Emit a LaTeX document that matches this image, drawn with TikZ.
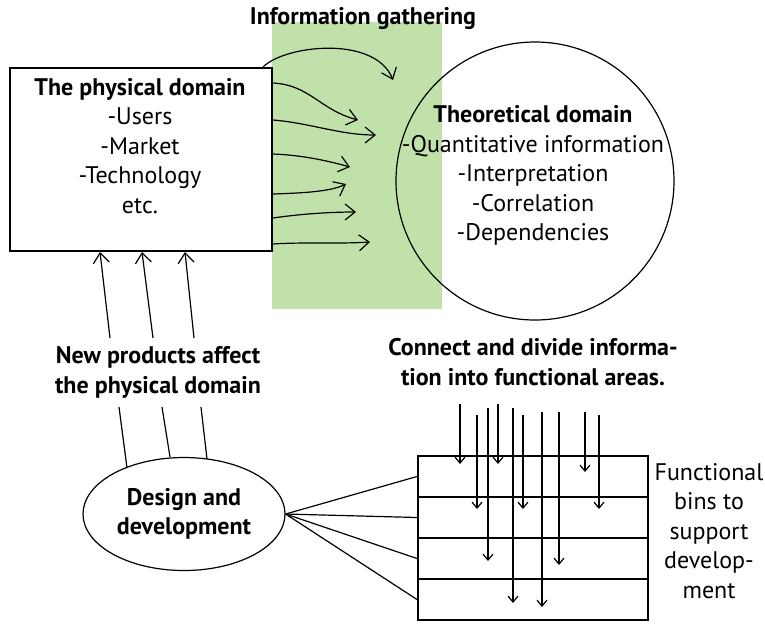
\documentclass[tikz,border=0pt]{standalone}
\usepackage{fontspec}
\setmainfont{PT Sans}
\usetikzlibrary{arrows.meta,shapes.geometric}

\definecolor{gathergreen}{RGB}{193,225,170}
\newcommand{\diagfont}{\fontsize{12}{14.7}\selectfont}

\tikzstyle{heading}=[align=center, font=\diagfont\bfseries, inner sep=0pt]
\tikzstyle{plain}=[align=center, font=\diagfont, inner sep=0pt]
\tikzstyle{infoarrow}=[-{Straight Barb[length=5pt,width=8pt]}, line width=0.6pt]
\tikzstyle{binarrow}=[-{Straight Barb[length=3pt,width=5pt]}, line width=0.6pt]
\tikzstyle{bin}=[draw, line width=1pt, minimum width=115pt, minimum height=20.5pt, inner sep=0pt]

\begin{document}
\begin{tikzpicture}[x=0.5pt, y=-0.5pt]
\useasboundingbox (0,0) rectangle (765,623);

\fill[gathergreen] (272,22) rectangle (442,309);
\node[heading] (gather) at (363,19) {Information gathering};

\node[draw, line width=1pt, minimum width=131pt, minimum height=91.5pt, inner sep=0pt] (phys) at (141,159.5) {};
\node[plain] (physlist) at (140,146) {\textbf{The physical domain}\\-Users\\-Market\\-Technology\\etc.};

\node[draw, circle, line width=0.6pt, minimum size=139pt, inner sep=0pt] (theo) at (535,181) {};
\node[plain] (theolist) at (533,175.5) {\textbf{Theoretical domain}\\-Quantitative information\\-Interpretation\\-Correlation\\-Dependencies};

% information flowing into the theoretical domain
\draw[infoarrow] ([xshift=-5pt]phys.north east) .. controls (285,45) and (375,35) .. (393,80);
\foreach \y/\ca/\cb/\tip in {83/{310,85}/{320,110}/{358,120},
                             120/{310,123}/{340,135}/{376,135},
                             154/{300,155}/{325,160}/{350,167},
                             194/{300,193}/{330,192}/{346,184},
                             218/{300,214}/{330,212}/{356,212},
                             244/{300,242}/{340,244}/{370,242}}{
  \draw[infoarrow] (phys.east |- 0,\y) .. controls (\ca) and (\cb) .. (\tip);
}

\node[heading] (newprod) at (158,372.5) {New products affect\\the physical domain};
\node[draw, ellipse, line width=0.6pt, minimum width=101pt, minimum height=56.5pt, inner sep=0pt, font=\diagfont\bfseries, align=center] (design) at (184,514) {Design and\\development};

\foreach \a/\ay/\b/\c/\d in {127/468/119/110/100, 170/457/162/153/142, 207/459/201/194/185}{
  \draw[line width=0.6pt] (\a,\ay) -- (\b,407);
  \draw[infoarrow] (\c,338) -- (phys.south -| \d,0);
}

\node[heading] (connect) at (533,362) {Connect and divide informa-\\tion into functional areas.};

\foreach \i in {1,...,4}{
  \node[bin] (bin\i) at (533,{435.5+41*\i}) {};
  \draw[line width=0.6pt] (design.east) -- (bin\i.west);
}

\foreach \x/\top/\tip in {460/404/464, 477/415/509, 488/408/561, 498/404/464, 513/408/603,
                          523/415/509, 542/412/607, 559/412/565, 585/412/472, 599/415/509}{
  \draw[binarrow] (\x,\top) -- (\x,\tip);
}

\node[plain] (funcbins) at (709,531) {Functional\\bins to\\support\\develop-\\ment};

\end{tikzpicture}
\end{document}
